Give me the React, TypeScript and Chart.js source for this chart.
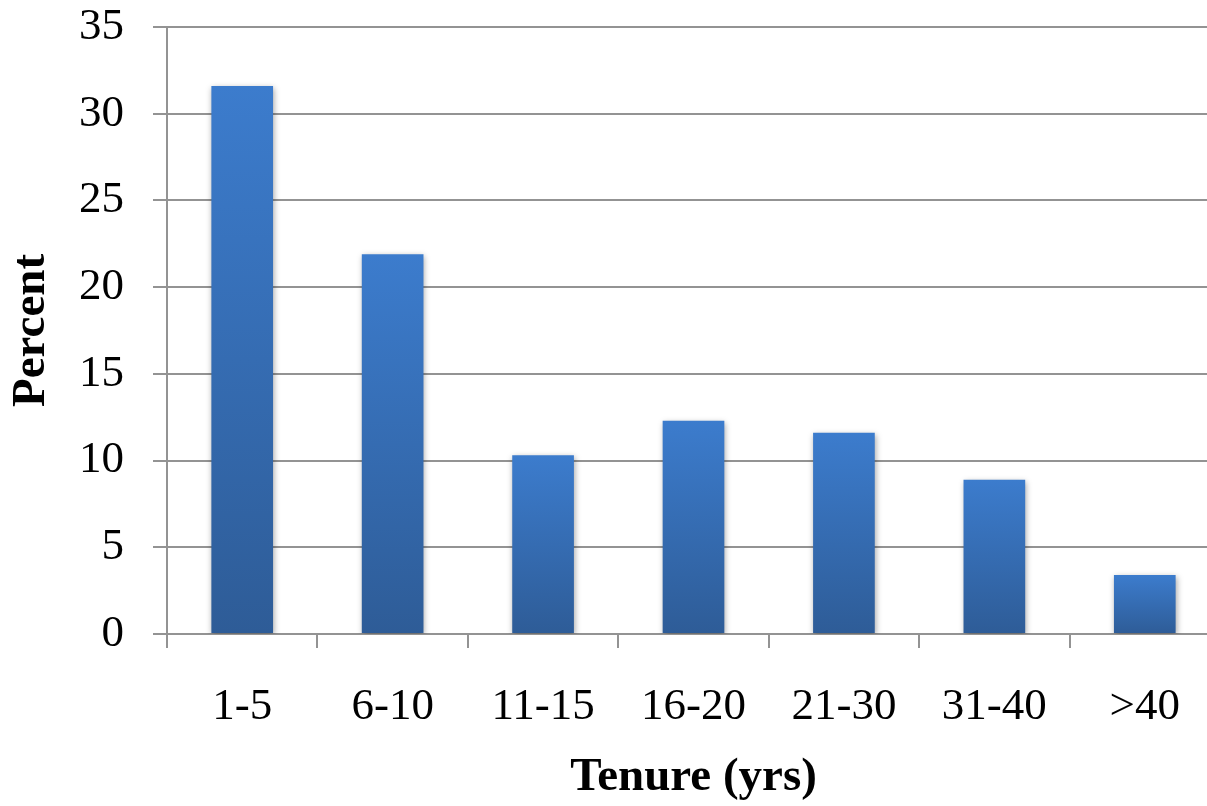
import React, { useEffect, useRef } from "react";
import { Chart, registerables } from "chart.js";

Chart.register(...registerables);

const categories = ["1-5", "6-10", "11-15", "16-20", "21-30", "31-40", ">40"];
const percentValues = [31.6, 21.9, 10.3, 12.3, 11.6, 8.9, 3.4];
const yMin = 0;
const yMax = 35;
const yStep = 5;
const xTitle = "Tenure (yrs)";
const yTitle = "Percent";

const FONT = '"Liberation Serif", "Times New Roman", serif';
const GRID = "#939393";

const shadowPlugin = {
  id: "barShadow",
  beforeDatasetsDraw(chart: any) {
    const ctx = chart.ctx;
    ctx.save();
    ctx.shadowColor = "rgba(0,0,0,0.35)";
    ctx.shadowBlur = 6;
    ctx.shadowOffsetX = 1;
    ctx.shadowOffsetY = 2;
  },
  afterDatasetsDraw(chart: any) {
    chart.ctx.restore();
  },
};

export default function App() {
  const canvasRef = useRef<HTMLCanvasElement | null>(null);

  useEffect(() => {
    const canvas = canvasRef.current;
    if (!canvas) return;
    const chart = new Chart(canvas, {
      type: "bar",
      data: {
        labels: categories,
        datasets: [
          {
            data: percentValues,
            backgroundColor: (c: any) => {
              const ch = c.chart;
              const ys = ch.scales && ch.scales.y;
              if (!ys || typeof c.raw !== "number") return "#3a79c9";
              const top = ys.getPixelForValue(c.raw);
              const bottom = ys.getPixelForValue(0);
              if (!isFinite(top) || !isFinite(bottom) || top === bottom) return "#3a79c9";
              const g = ch.ctx.createLinearGradient(0, top, 0, bottom);
              g.addColorStop(0, "#3c7ccd");
              g.addColorStop(1, "#2e5c97");
              return g;
            },
            borderWidth: 0,
            barPercentage: 0.41,
            categoryPercentage: 1,
          },
        ],
      },
      options: {
        responsive: false,
        animation: false,
        devicePixelRatio: 1,
        layout: { padding: { top: 27, right: 10, left: 0, bottom: 0 } },
        plugins: {
          legend: { display: false },
          tooltip: { enabled: false },
        },
        scales: {
          x: {
            grid: {
              drawOnChartArea: false,
              drawTicks: true,
              tickLength: 14,
              color: GRID,
              lineWidth: 2,
              offset: true,
            },
            border: { display: true, color: GRID, width: 2 },
            ticks: {
              color: "#000",
              font: { family: FONT, size: 45 },
              padding: 32,
              maxRotation: 0,
              autoSkip: false,
            },
            title: {
              display: true,
              text: xTitle,
              color: "#000",
              font: { family: FONT, size: 47, weight: "bold" },
              padding: { top: 0, bottom: 0 },
            },
            afterFit: (scale: any) => {
              scale.height = 172;
              scale.paddingLeft = 0;
              scale.paddingRight = 0;
            },
          },
          y: {
            min: yMin,
            max: yMax,
            grid: {
              drawTicks: true,
              tickLength: 14,
              color: GRID,
              lineWidth: 2,
            },
            border: { display: true, color: GRID, width: 2 },
            ticks: {
              stepSize: yStep,
              color: "#000",
              font: { family: FONT, size: 45 },
              padding: 29,
            },
            title: {
              display: true,
              text: yTitle,
              color: "#000",
              font: { family: FONT, size: 47, weight: "bold" },
              padding: { top: 4, bottom: 0 },
            },
            afterFit: (scale: any) => {
              scale.width = 167;
              scale.paddingTop = 0;
              scale.paddingBottom = 0;
            },
          },
        },
      },
      plugins: [shadowPlugin],
    });
    return () => chart.destroy();
  }, []);

  return (
    <div
      style={{
        position: "fixed",
        left: 0,
        top: 0,
        width: 1207,
        height: 806,
        overflow: "hidden",
        background: "#fff",
      }}
    >
      <canvas ref={canvasRef} width={1230} height={806} style={{ display: "block" }} />
    </div>
  );
}
